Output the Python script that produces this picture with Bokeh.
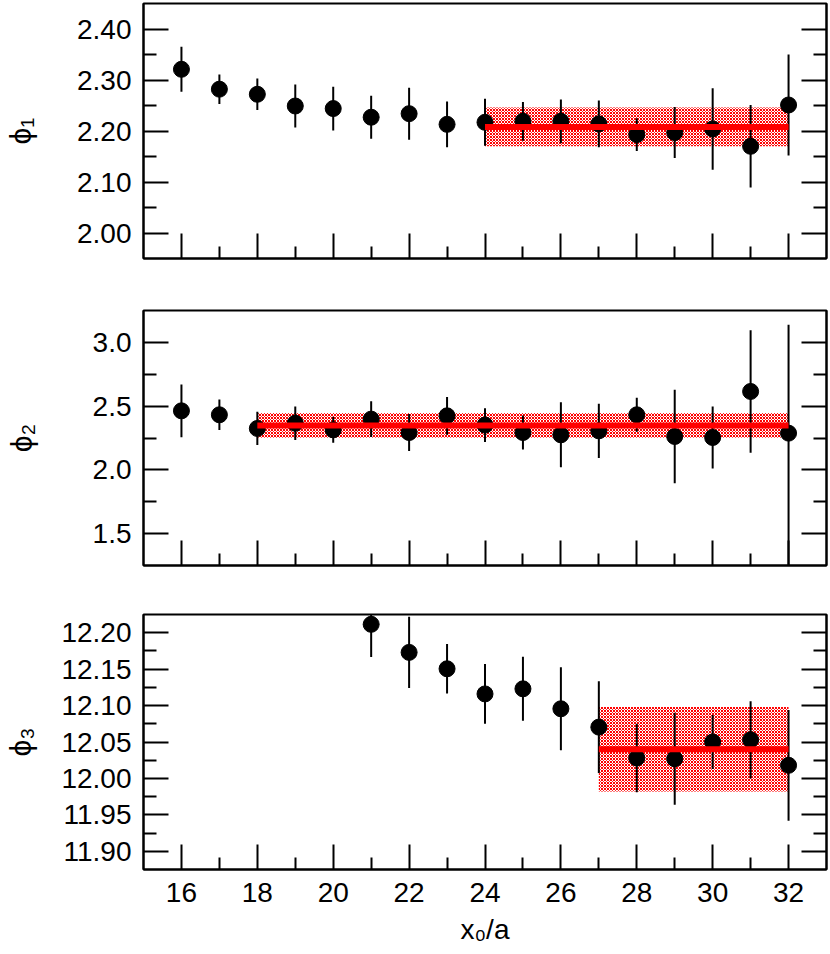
from bokeh.plotting import figure
from bokeh.models import Range1d, FixedTicker, PrintfTickFormatter, LinearAxis
from bokeh.layouts import column
from bokeh.embed import file_html
from bokeh.resources import INLINE

# ---------------- data ----------------
x_all = list(range(16, 33))
phi1 = [2.321, 2.282, 2.272, 2.249, 2.244, 2.227, 2.234, 2.213, 2.217,
        2.219, 2.219, 2.214, 2.193, 2.197, 2.204, 2.170, 2.251]
phi1_err = [0.044, 0.029, 0.031, 0.042, 0.043, 0.042, 0.051, 0.045, 0.046,
            0.038, 0.043, 0.046, 0.032, 0.050, 0.080, 0.081, 0.099]

phi2 = [2.463, 2.432, 2.325, 2.366, 2.314, 2.398, 2.293, 2.424, 2.351,
        2.293, 2.275, 2.306, 2.432, 2.262, 2.254, 2.615, 2.288]
phi2_err_up = [0.207, 0.119, 0.130, 0.131, 0.102, 0.140, 0.145, 0.148, 0.133,
               0.134, 0.255, 0.212, 0.133, 0.367, 0.243, 0.480, 0.851]
phi2_err_dn = [0.207, 0.119, 0.130, 0.131, 0.102, 0.140, 0.145, 0.148, 0.133,
               0.134, 0.255, 0.212, 0.133, 0.367, 0.243, 0.480, 1.100]

x3 = list(range(21, 33))
phi3 = [12.2115, 12.173, 12.1505, 12.116, 12.123, 12.0956, 12.0704,
        12.028, 12.027, 12.050, 12.053, 12.018]
phi3_err = [0.045, 0.049, 0.034, 0.041, 0.044, 0.057, 0.063,
            0.047, 0.063, 0.037, 0.053, 0.076]

# fit plateaus: start, end, value, error
fit_start = [24, 18, 27]
fit_end = [32, 32, 32]
fit_val = [2.208, 2.349, 12.040]
fit_err = [0.038, 0.098, 0.058]

x_major = [16, 18, 20, 22, 24, 26, 28, 30, 32]
x_minor = [17, 19, 21, 23, 25, 27, 29, 31]
x_tick_labels = {t: str(t) for t in x_major}

y1_major = [2.00, 2.10, 2.20, 2.30, 2.40]
y1_minor = [2.05, 2.15, 2.25, 2.35]
y2_major = [1.5, 2.0, 2.5, 3.0]
y2_minor = [1.75, 2.25, 2.75]
y3_major = [11.90, 11.95, 12.00, 12.05, 12.10, 12.15, 12.20]
y3_minor = [11.925, 11.975, 12.025, 12.075, 12.125, 12.175]

y_labels = ["ϕ₁", "ϕ₂", "ϕ₃"]
x_label = "x₀/a"

FONT = "Liberation Sans"
W = 830


def style_axis(ax, major_in=25, minor_in=12, labels=True, size="28px", standoff=12):
    ax.major_tick_in = major_in
    ax.major_tick_out = 0
    ax.minor_tick_in = minor_in
    ax.minor_tick_out = 0
    ax.major_tick_line_width = 2
    ax.minor_tick_line_width = 2
    ax.major_tick_line_color = "black"
    ax.minor_tick_line_color = "black"
    ax.axis_line_color = "black"
    ax.axis_line_width = 2
    ax.major_label_text_font = FONT
    if labels:
        ax.major_label_text_color = "black"
        ax.major_label_text_font_size = size
        ax.major_label_standoff = standoff
    else:
        ax.major_label_text_color = None
        ax.major_label_text_font_size = "0px"
        ax.major_label_standoff = 0


def make_panel(yr, ymaj, ymin, fmt, ylabel, ystand, height, btop, bbot, xlabels):
    p = figure(width=W, height=height, output_backend="svg", toolbar_location=None,
               x_range=Range1d(15, 33), y_range=Range1d(*yr),
               min_border_left=143, min_border_right=4,
               min_border_top=btop, min_border_bottom=bbot,
               background_fill_color="white", border_fill_color="white")
    p.xgrid.grid_line_color = None
    p.ygrid.grid_line_color = None
    p.outline_line_color = "black"
    p.outline_line_width = 2

    p.xaxis.ticker = FixedTicker(ticks=x_major, minor_ticks=x_minor)
    p.yaxis.ticker = FixedTicker(ticks=ymaj, minor_ticks=ymin)
    p.yaxis.formatter = PrintfTickFormatter(format=fmt)
    p.xaxis.major_label_overrides = x_tick_labels
    style_axis(p.xaxis[0], labels=xlabels, standoff=13)
    style_axis(p.yaxis[0], minor_in=13, labels=True, standoff=12)
    p.yaxis.axis_label = ylabel
    p.yaxis.axis_label_text_font = FONT
    p.yaxis.axis_label_text_color = "black"
    p.yaxis.axis_label_text_font_size = "30px"
    p.yaxis.axis_label_text_font_style = "normal"
    p.yaxis.axis_label_standoff = int(ystand)
    if xlabels:
        p.xaxis.axis_label = x_label
        p.xaxis.axis_label_text_font = FONT
        p.xaxis.axis_label_text_color = "black"
        p.xaxis.axis_label_text_font_size = "28px"
        p.xaxis.axis_label_text_font_style = "normal"
        p.xaxis.axis_label_standoff = 9

    right = LinearAxis(ticker=FixedTicker(ticks=ymaj, minor_ticks=ymin))
    style_axis(right, minor_in=13, labels=False)
    p.add_layout(right, "right")
    return p


def add_data(p, xs, ys, e_dn, e_up, k):
    lo = fit_val[k] - fit_err[k]
    hi = fit_val[k] + fit_err[k]
    p.quad(left=[fit_start[k]], right=[fit_end[k]], bottom=[lo], top=[hi],
           fill_color="white", fill_alpha=1.0, line_color=None,
           hatch_pattern="diagonal_cross", hatch_color="#ff0000",
           hatch_scale=3, hatch_weight=1.0)
    p.segment(x0=xs, y0=[y - d for y, d in zip(ys, e_dn)],
              x1=xs, y1=[y + u for y, u in zip(ys, e_up)],
              line_color="black", line_width=2)
    p.scatter(xs, ys, size=16, fill_color="black", line_color="black")
    p.segment(x0=[fit_start[k]], y0=[fit_val[k]], x1=[fit_end[k]], y1=[fit_val[k]],
              line_color="#ff0000", line_width=6)


p1 = make_panel((1.95, 2.45), y1_major, y1_minor, "%.2f", y_labels[0],
                37, 284, 3, 26, False)
add_data(p1, x_all, phi1, phi1_err, phi1_err, 0)

p2 = make_panel((1.25, 3.25), y2_major, y2_minor, "%.1f", y_labels[1],
                52, 305, 26, 24, False)
add_data(p2, x_all, phi2, phi2_err_dn, phi2_err_up, 1)

p3 = make_panel((11.875, 12.225), y3_major, y3_minor, "%.2f", y_labels[2],
                21, 365, 25, 85, True)
add_data(p3, x3, phi3, phi3_err, phi3_err, 2)

layout = column(p1, p2, p3)
open("out.html", "w").write(file_html(layout, INLINE))
